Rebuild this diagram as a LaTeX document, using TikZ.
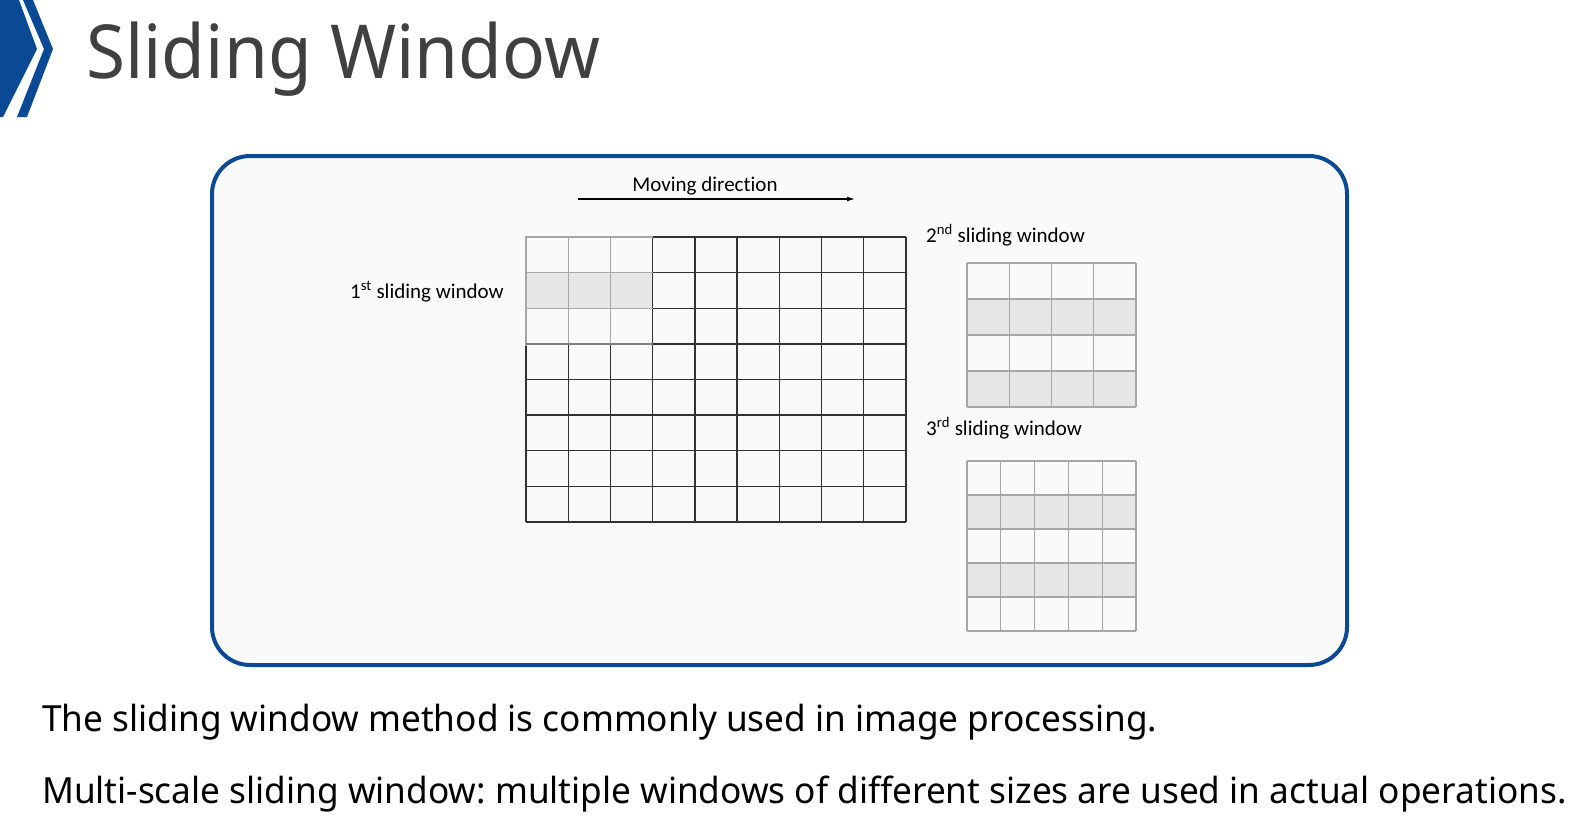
\documentclass[tikz,border=0pt]{standalone}
\usepackage{fontspec}
\setmainfont{Noto Sans}[FakeStretch=0.978]
\newfontfamily\headfont{Noto Sans}[FakeStretch=0.955]
\newfontfamily\lblfont{Carlito}[Ligatures=NoCommon]
\usetikzlibrary{arrows.meta}
\frenchspacing

\definecolor{brandblue}{RGB}{10,74,148}
\definecolor{titlegray}{RGB}{64,64,64}
\definecolor{panelbg}{RGB}{250,250,250}
\definecolor{cellgray}{RGB}{230,230,230}
\definecolor{softline}{RGB}{166,166,166}
\definecolor{darkline}{RGB}{50,50,50}

\tikzset{
  titletext/.style={anchor=base west, inner sep=0, text=titlegray, font=\headfont\fontsize{74.5}{88}\selectfont},
  bodytext/.style={anchor=base west, inner sep=0, text=black, font=\fontsize{36}{42}\selectfont},
  lbl/.style={inner sep=0, text=black, font=\lblfont\fontsize{21}{26}\selectfont},
  hardgrid/.style={draw=darkline, line width=1.3pt},
  softgrid/.style={draw=softline, line width=1.3pt},
  panel/.style={draw=brandblue, line width=4pt, fill=panelbg, rounded corners=38pt},
}

\begin{document}
\begin{tikzpicture}[x=1pt, y=-1pt]
\useasboundingbox (0,0) rectangle (1585,823);
\fill[white] (0,0) rectangle (1585,823);

% chevron emblem at the top left
\fill[brandblue] (0,0) -- (19,0) -- (37,49) -- (3,117) -- (0,117) -- cycle;
\fill[brandblue] (23,0) -- (33,0) -- (53,49) -- (27,117) -- (17,117) -- (44,49) -- cycle;

% title
\node[titletext] (title) at (86,78) {Sliding Window};

% rounded panel
\draw[panel] (212,156) rectangle (1347,665);

% moving direction label and arrow
\node[lbl, anchor=base] (movelbl) at (705,191) {Moving direction};
\coordinate (arrS) at (578,199);
\coordinate (arrE) at (855,199);
\draw[line width=1.3pt, -{Latex[length=8pt,width=5pt]}] (arrS) -- (arrE);

% large image grid: 9 columns x 8 rows
\fill[cellgray] (526,272.625) rectangle (652.667,308.25);
\foreach \i in {0,...,9} {
  \draw[hardgrid] ({526+\i*42.2222},237) -- ({526+\i*42.2222},522);
}
\foreach \j in {0,...,8} {
  \draw[hardgrid] (526,{237+\j*35.625}) -- (906,{237+\j*35.625});
}
% first window (3 x 3) outlined in grey
\draw[softgrid, line cap=rect] (526,344.875) -- (526,237) -- (652.667,237);
\foreach \i in {1,2} {
  \draw[softgrid] ({526+\i*42.2222},237) -- ({526+\i*42.2222},344.875);
}
\foreach \j in {1,2} {
  \draw[softgrid] (526,{237+\j*35.625}) -- (652.667,{237+\j*35.625});
}
\draw[draw=gray, line width=1.3pt] (526,343.875) -- (652.667,343.875);

\node[lbl, anchor=base east] (win1) at (504,298) {1\textsuperscript{st} sliding window};

% second window: 4 x 4
\node[lbl, anchor=base west] (win2) at (926,242) {2\textsuperscript{nd} sliding window};
\fill[cellgray] (967,299) rectangle (1136,335);
\fill[cellgray] (967,371) rectangle (1136,407);
\foreach \i in {0,...,4} {
  \draw[softgrid] ({967+\i*42.25},263) -- ({967+\i*42.25},407);
}
\foreach \j in {0,...,4} {
  \draw[softgrid] (967,{263+\j*36}) -- (1136,{263+\j*36});
}

% third window: 5 x 5
\node[lbl, anchor=base west] (win3) at (926,435) {3\textsuperscript{rd} sliding window};
\fill[cellgray] (967,495) rectangle (1136,529);
\fill[cellgray] (967,563) rectangle (1136,597);
\foreach \i in {0,...,5} {
  \draw[softgrid] ({967+\i*33.8},461) -- ({967+\i*33.8},631);
}
\foreach \j in {0,...,5} {
  \draw[softgrid] (967,{461+\j*34}) -- (1136,{461+\j*34});
}

% explanatory text
\node[bodytext] (line1) at (42,731) {The sliding window method is commonly used in image processing.};
\node[bodytext] (line2) at (42,803) {Multi-scale sliding window: multiple windows of different sizes are used in actual operations.};
\end{tikzpicture}
\end{document}
